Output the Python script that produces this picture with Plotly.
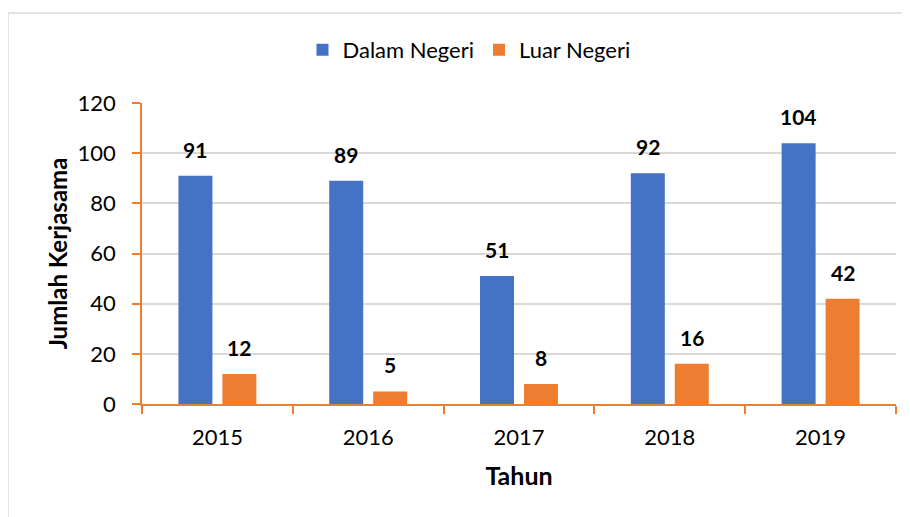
import plotly.graph_objects as go

# Data
years = ["2015", "2016", "2017", "2018", "2019"]
dalam_negeri = [91, 89, 51, 92, 104]
luar_negeri = [12, 5, 8, 16, 42]

BLUE = "#4472C4"
ORANGE = "#ED7D31"
GRID = "#D9D9D9"
FONT = "Lato, 'Open Sans', sans-serif"

fig = go.Figure()
fig.add_trace(go.Bar(name="Dalam Negeri", x=years, y=dalam_negeri,
                     marker_color=BLUE, marker_line_width=0))
fig.add_trace(go.Bar(name="Luar Negeri", x=years, y=luar_negeri,
                     marker_color=ORANGE, marker_line_width=0))

# value labels above each bar (bold, lifted a bit like the Excel original)
# x is given as category index so the year strings aren't read as numbers
for series, shift in ((dalam_negeri, -22), (luar_negeri, 22)):
    for i, v in enumerate(series):
        fig.add_annotation(x=i, y=v, text="<b>%d</b>" % v, showarrow=False,
                           xshift=shift, yshift=12, yanchor="bottom",
                           font=dict(family=FONT, size=21, color="black"))

# light grey frame around the whole chart (runs off the right and bottom edge)
# note: page body adds 8px margin, margins below are offset for that
fig.add_shape(type="rect", xref="paper", yref="paper",
              x0=-0.1777, x1=1.05, y0=-0.45, y1=1.299,
              line=dict(color=GRID, width=1.5), layer="below")

fig.update_layout(
    width=910, height=517,
    margin=dict(l=134, r=22, t=95, b=121, autoexpand=False),
    paper_bgcolor="white", plot_bgcolor="white",
    font=dict(family=FONT, size=22, color="black"),
    barmode="group", bargap=0.417, bargroupgap=0.227,
    showlegend=True,
    legend=dict(orientation="h", xref="container", yref="container",
                x=461 / 910, xanchor="center", y=1 - 42 / 517, yanchor="middle",
                font=dict(size=22), itemclick=False, traceorder="normal"),
)
fig.update_xaxes(
    type="category", range=[-0.5, len(years) - 0.5],
    showline=True, linecolor=ORANGE, linewidth=1.5,
    ticks="outside", tickson="boundaries", ticklen=8, tickcolor=ORANGE,
    tickwidth=1.5, ticklabelstandoff=13, tickangle=0,
    title=dict(text="<b>Tahun</b>", standoff=18, font=dict(size=25)),
)
fig.update_yaxes(
    range=[0, 120], dtick=20, showline=True, linecolor=ORANGE, linewidth=1.5,
    ticks="outside", ticklen=8, tickcolor=ORANGE, tickwidth=1.5,
    ticklabelstandoff=12,
    showgrid=True, gridcolor=GRID, gridwidth=1.5, zeroline=False,
    title=dict(text="<b>Jumlah Kerjasama</b>", standoff=3, font=dict(size=24)),
)

fig.write_html("out.html")
